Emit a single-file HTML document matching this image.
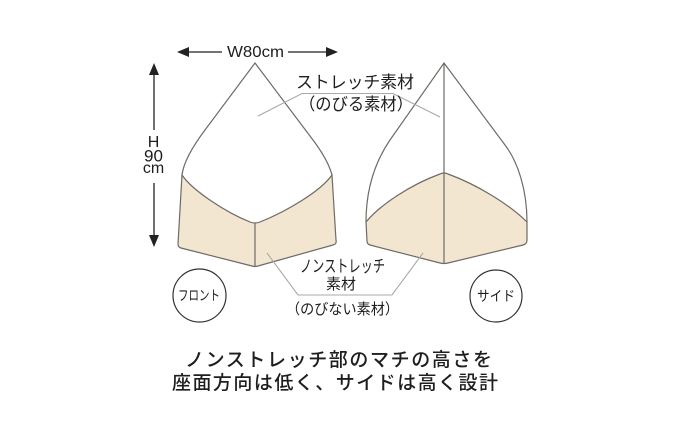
<!DOCTYPE html>
<html><head><meta charset="utf-8"><style>
html,body{margin:0;padding:0;background:#fff;}
svg{display:block;}
.jp{font-family:"Liberation Sans","Noto Sans CJK JP",sans-serif;fill:#1e1e1e;}
.lat{font-family:"Liberation Sans",sans-serif;fill:#1e1e1e;}
</style></head><body>
<svg width="680" height="421" viewBox="0 0 680 421" xmlns="http://www.w3.org/2000/svg">
<rect width="680" height="421" fill="#fff"/>
<!-- Front beige -->
<path d="M182,175 C192,190 225,212 250,222 Q255,224 260,222 C285,212 320,192 332,175 L336,240 Q337,244 333,245 L258,266 Q255,267 252,266 L181,248 Q178,247 178,244 Z" fill="#f3e6d1" stroke="#6e6a66" stroke-width="1.2"/>
<line x1="255" y1="223" x2="255" y2="266" stroke="#6e6a66" stroke-width="1.2"/>
<!-- Front outline -->
<path d="M182,175 Q184,158 205,130 L255,63 L313,140 Q328,160 332,175" fill="none" stroke="#6e6a66" stroke-width="1.2"/>
<!-- Side beige -->
<path d="M366,222 C380,205 410,185 440,174 Q444,172 448,174 C478,185 510,205 527,222 L527,240 Q527,244 523,245 L448,263 Q444,264 440,263 L370,245 Q367,244 367,241 Z" fill="#f3e6d1" stroke="#6e6a66" stroke-width="1.2"/>
<!-- Side outline -->
<path d="M366,222 C366,190 375,162 390,140 L444,63 L505,145 C518,162 527,190 527,222" fill="none" stroke="#6e6a66" stroke-width="1.2"/>
<line x1="444" y1="63" x2="444" y2="264" stroke="#6e6a66" stroke-width="1.2"/>

<!-- Leader lines -->
<polyline points="258,116 302,93.5 393,93.5 440,117" fill="none" stroke="#a8a8a8" stroke-width="1.1"/>
<polyline points="267,253 298,295 392,295 423,253" fill="none" stroke="#a8a8a8" stroke-width="1.1"/>

<!-- W arrow -->
<line x1="187" y1="52" x2="222" y2="52" stroke="#222" stroke-width="1.3"/>
<line x1="288" y1="52" x2="328" y2="52" stroke="#222" stroke-width="1.3"/>
<polygon points="177,52 189,47 189,57" fill="#222"/>
<polygon points="338,52 326,47 326,57" fill="#222"/>
<text class="lat" x="255.5" y="57" font-size="16" text-anchor="middle" textLength="57" lengthAdjust="spacingAndGlyphs">W80cm</text>

<!-- H arrow -->
<line x1="154" y1="72" x2="154" y2="130" stroke="#222" stroke-width="1.3"/>
<line x1="154" y1="183" x2="154" y2="238" stroke="#222" stroke-width="1.3"/>
<polygon points="154,63 149,75 159,75" fill="#222"/>
<polygon points="154,247 149,235 159,235" fill="#222"/>
<text class="lat" x="153.5" y="147" font-size="16" text-anchor="middle">H</text>
<text class="lat" x="153.5" y="161.5" font-size="17" text-anchor="middle">90</text>
<text class="lat" x="153.5" y="173" font-size="16" text-anchor="middle">cm</text>

<!-- Stretch labels -->
<text class="jp" x="296" y="88" font-size="17" textLength="118" lengthAdjust="spacingAndGlyphs">ストレッチ素材</text>
<text class="jp" x="299" y="110" font-size="17" textLength="114" lengthAdjust="spacingAndGlyphs">（のびる素材）</text>

<!-- Non-stretch labels -->
<text class="jp" x="300" y="272" font-size="17" textLength="85" lengthAdjust="spacingAndGlyphs">ノンストレッチ</text>
<text class="jp" x="326" y="289" font-size="15" textLength="30" lengthAdjust="spacingAndGlyphs">素材</text>
<text class="jp" x="286" y="314" font-size="15" textLength="113" lengthAdjust="spacingAndGlyphs">（のびない素材）</text>

<!-- Circles -->
<circle cx="199.5" cy="295.5" r="26.5" fill="none" stroke="#333" stroke-width="1.2"/>
<text class="jp" x="178" y="300.5" font-size="14" textLength="42" lengthAdjust="spacingAndGlyphs">フロント</text>
<circle cx="496" cy="296" r="26" fill="none" stroke="#333" stroke-width="1.2"/>
<text class="jp" x="477" y="301" font-size="14" textLength="38" lengthAdjust="spacingAndGlyphs">サイド</text>

<!-- Bottom caption -->
<text class="jp" x="185" y="366" font-size="19" font-weight="500" textLength="307" lengthAdjust="spacing">ノンストレッチ部のマチの高さを</text>
<text class="jp" x="172" y="389" font-size="19" font-weight="500" textLength="326" lengthAdjust="spacing">座面方向は低く、サイドは高く設計</text>
</svg>
</body></html>
